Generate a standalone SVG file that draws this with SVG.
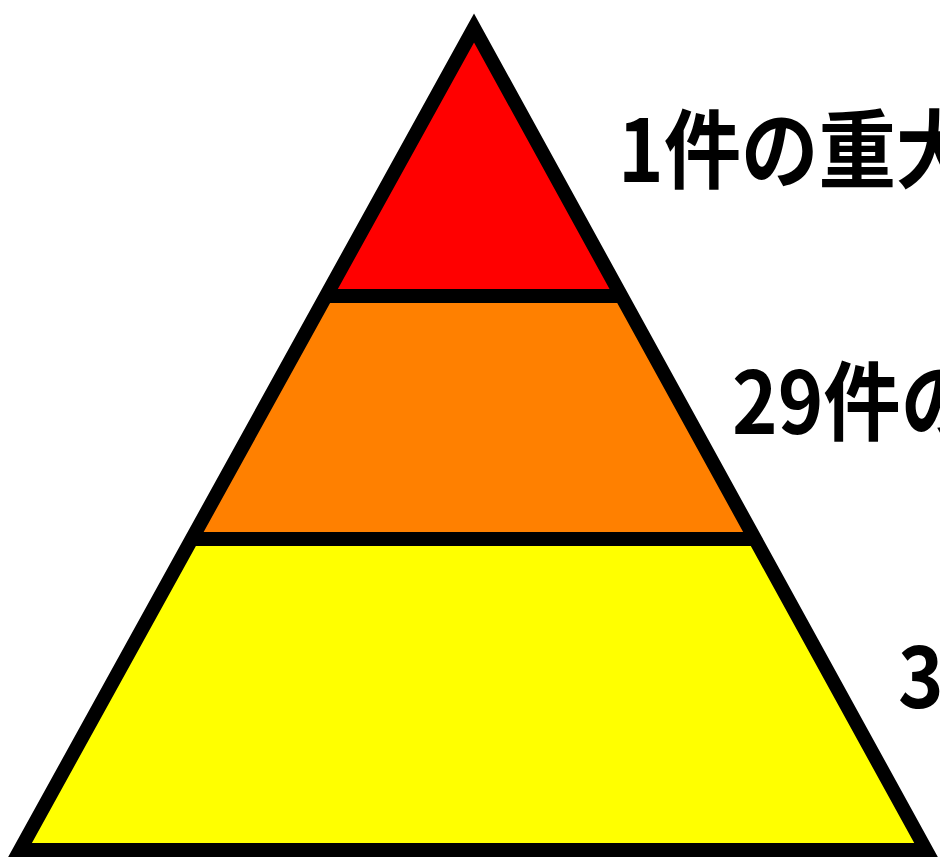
<svg xmlns="http://www.w3.org/2000/svg" width="940" height="860" viewBox="0 0 940 860">
  <style>
    .lbl { font-family: "Noto Sans CJK JP", "Noto Sans", sans-serif; font-weight: bold; font-size: 86px; fill: #000; }
    .edge { fill: none; stroke: #000; stroke-width: 14; }
  </style>
  <defs>
    <clipPath id="tri">
      <polygon points="474,28 20,850 926,850"/>
    </clipPath>
  </defs>
  <rect width="940" height="860" fill="#fff"/>
  <g id="pyramid">
    <g clip-path="url(#tri)">
      <rect id="tier-top" x="0" y="0" width="940" height="296" fill="#ff0000"/>
      <rect id="tier-middle" x="0" y="296" width="940" height="243" fill="#ff8000"/>
      <rect id="tier-bottom" x="0" y="539" width="940" height="321" fill="#ffff00"/>
      <line class="edge" x1="0" y1="296" x2="940" y2="296"/>
      <line class="edge" x1="0" y1="539" x2="940" y2="539"/>
    </g>
    <polygon class="edge" points="474,28 20,850 926,850" stroke-linejoin="miter"/>
  </g>
  <g id="label-1"><text class="lbl" transform="translate(618,182) scale(0.9,1)">1件の重大</text></g>
  <g id="label-2"><text class="lbl" transform="translate(732,434) scale(0.9,1)">29件の</text></g>
  <g id="label-3"><text class="lbl" transform="translate(898,708) scale(0.9,1)">3</text></g>
</svg>
